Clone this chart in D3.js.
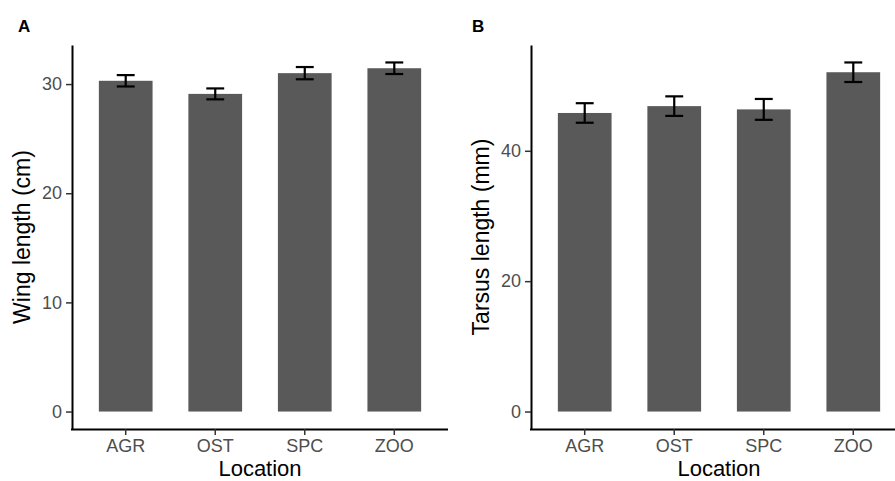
<!DOCTYPE html>
<html lang="en">
<head>
    <meta charset="UTF-8">
    <title>Wing and tarsus length by location</title>
    <script src="https://d3js.org/d3.v7.min.js"></script>
    <style>
        body {
            margin: 0;
            padding: 0;
            background: #fff;
            font-family: "Liberation Sans", Arial, sans-serif;
        }
        .tick text {
            fill: #4d4d4d;
            font-size: 18px;
        }
        .tick line {
            stroke: #333;
            stroke-width: 1.5;
        }
        .domain {
            stroke: #000;
            stroke-width: 2;
        }
    </style>
</head>
<body>
    <svg id="chart" width="895" height="481"></svg>

    <script>
        // Data
        const locations = ["AGR", "OST", "SPC", "ZOO"];
        const wingMean = [30.3, 29.1, 31.0, 31.45];
        const wingSE = [0.52, 0.5, 0.56, 0.53];
        const tarsusMean = [45.8, 46.85, 46.35, 52.05];
        const tarsusSE = [1.5, 1.5, 1.6, 1.5];
        const wingTicks = [0, 10, 20, 30];
        const tarsusTicks = [0, 20, 40];

        const svg = d3.select("#chart");

        // Panel layout
        const panels = [
            { tag: "A", left: 72, yTitle: "Wing length (cm)", titleX: 30, tagX: 18,
              means: wingMean, errs: wingSE, ticks: wingTicks },
            { tag: "B", left: 531, yTitle: "Tarsus length (mm)", titleX: 489, tagX: 472,
              means: tarsusMean, errs: tarsusSE, ticks: tarsusTicks }
        ];
        const panelW = 376;
        const panelTop = 45, panelBottom = 429;

        panels.forEach(p => {
            const rows = locations.map((loc, i) => ({ loc, mean: p.means[i], se: p.errs[i] }));
            const maxVal = d3.max(rows, d => d.mean + d.se);

            const x = d3.scaleBand()
                .domain(locations)
                .range([p.left, p.left + panelW])
                .paddingInner(0.4)
                .paddingOuter(0.3);

            // ggplot-like 5% expansion
            const y = d3.scaleLinear()
                .domain([-0.05 * maxVal, maxVal * 1.05])
                .range([panelBottom, panelTop]);

            const g = svg.append("g");

            // bars
            g.selectAll(".bar")
                .data(rows)
                .enter()
                .append("rect")
                .attr("class", "bar")
                .attr("x", d => x(d.loc))
                .attr("width", x.bandwidth())
                .attr("y", d => y(d.mean))
                .attr("height", d => y(0) - y(d.mean))
                .attr("fill", "#595959");

            // error bars
            const capW = x.step() * 0.2;
            const eb = g.selectAll(".err")
                .data(rows)
                .enter()
                .append("g")
                .attr("class", "err")
                .attr("stroke", "#000")
                .attr("stroke-width", 2.2);
            eb.append("line")
                .attr("x1", d => x(d.loc) + x.bandwidth() / 2)
                .attr("x2", d => x(d.loc) + x.bandwidth() / 2)
                .attr("y1", d => y(d.mean - d.se))
                .attr("y2", d => y(d.mean + d.se));
            eb.append("line")
                .attr("x1", d => x(d.loc) + x.bandwidth() / 2 - capW / 2)
                .attr("x2", d => x(d.loc) + x.bandwidth() / 2 + capW / 2)
                .attr("y1", d => y(d.mean + d.se))
                .attr("y2", d => y(d.mean + d.se));
            eb.append("line")
                .attr("x1", d => x(d.loc) + x.bandwidth() / 2 - capW / 2)
                .attr("x2", d => x(d.loc) + x.bandwidth() / 2 + capW / 2)
                .attr("y1", d => y(d.mean - d.se))
                .attr("y2", d => y(d.mean - d.se));

            // axes
            const yAxis = g.append("g")
                .attr("transform", `translate(${p.left},0)`)
                .call(d3.axisLeft(y).tickValues(p.ticks).tickSize(6).tickPadding(4).tickSizeOuter(0));
            yAxis.selectAll("text").style("font-family", "Liberation Sans, Arial, sans-serif");

            const xAxis = g.append("g")
                .attr("transform", `translate(0,${panelBottom})`)
                .call(d3.axisBottom(x).tickSize(6).tickPadding(4).tickSizeOuter(0));
            xAxis.selectAll("text").style("font-family", "Liberation Sans, Arial, sans-serif");
            xAxis.select(".domain").attr("d", `M${p.left - 1},0.5H${p.left + panelW}`);

            // axis titles
            g.append("text")
                .attr("transform", `translate(${p.titleX},${(panelTop + panelBottom) / 2}) rotate(-90)`)
                .attr("text-anchor", "middle")
                .style("font-size", "23px")
                .text(p.yTitle);

            g.append("text")
                .attr("x", p.left + panelW / 2)
                .attr("y", 476)
                .attr("text-anchor", "middle")
                .style("font-size", "22px")
                .text("Location");

            // panel tag
            g.append("text")
                .attr("x", p.tagX)
                .attr("y", 32)
                .style("font-size", "17px")
                .style("font-weight", "bold")
                .text(p.tag);
        });
    </script>
</body>
</html>
